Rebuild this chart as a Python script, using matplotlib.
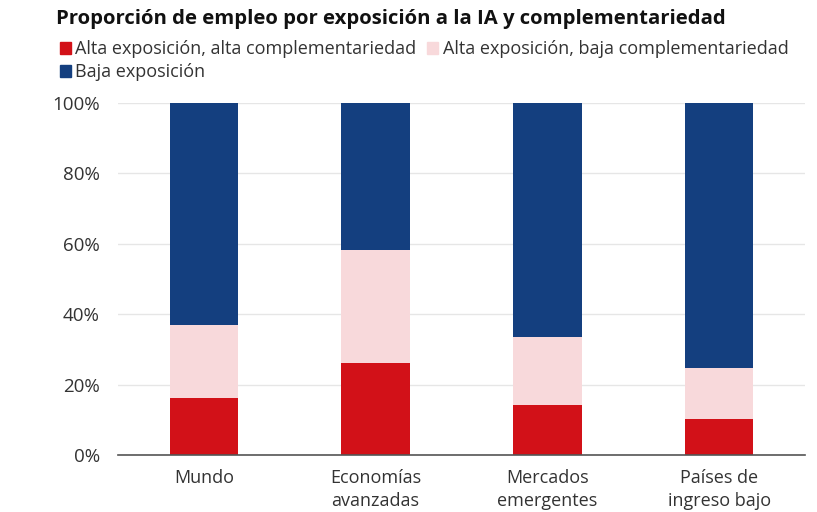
import matplotlib
matplotlib.use("Agg")
import matplotlib.pyplot as plt
from matplotlib.patches import Patch
from matplotlib.ticker import FuncFormatter

categories = ["Mundo", "Economías\navanzadas", "Mercados\nemergentes", "Países de\ningreso bajo"]
alta_alta = [16.2, 26.1, 14.3, 10.1]
alta_baja = [20.7, 32.1, 19.2, 14.5]
baja = [63.1, 41.8, 66.5, 75.4]
series_labels = ["Alta exposición, alta complementariedad",
                 "Alta exposición, baja complementariedad",
                 "Baja exposición"]
colors = ["#D21118", "#F8D9DB", "#143F7F"]

plt.rcParams["font.family"] = ["Open Sans", "DejaVu Sans"]

fig = plt.figure(figsize=(8.17, 5.12), dpi=100)
ax = fig.add_axes([0.1444, 0.1113, 0.8409, 0.6875])

x = range(len(categories))
w = 0.4
bottom = [0.0] * len(categories)
for vals, c in zip([alta_alta, alta_baja, baja], colors):
    ax.bar(x, vals, w, bottom=bottom, color=c, zorder=3)
    bottom = [b + v for b, v in zip(bottom, vals)]

ax.set_xlim(-0.5, len(categories) - 0.5)
ax.set_ylim(0, 100)
ax.set_yticks(range(0, 101, 20))
ax.yaxis.set_major_formatter(FuncFormatter(lambda v, p: f"{v:.0f}%"))
ax.set_xticks(list(x))
ax.set_xticklabels(categories, fontsize=13, color="#333333", linespacing=1.35)
ax.tick_params(axis="y", labelsize=13.5, labelcolor="#333333", length=0, pad=13)
ax.tick_params(axis="x", length=0, pad=10)
ax.grid(axis="y", color="#E6E6E6", linewidth=1, zorder=0)
for s in ["top", "right", "left"]:
    ax.spines[s].set_visible(False)
ax.spines["bottom"].set_color("#555555")
ax.spines["bottom"].set_linewidth(1.2)
ax.spines["bottom"].set_zorder(4)

fig.text(0.068, 0.963, "Proporción de empleo por exposición a la IA y complementariedad",
         fontsize=14.6, fontweight="bold", color="#111111", va="center")

handles = [Patch(color=c) for c in colors]
order = [0, 2, 1]
fig.legend([handles[i] for i in order], [series_labels[i] for i in order],
           ncol=2, loc="upper left", bbox_to_anchor=(0.058, 0.946),
           frameon=False, fontsize=13, handlelength=0.6, handleheight=0.6,
           handletextpad=0.25, columnspacing=0.6, labelspacing=0.28,
           labelcolor="#333333", borderpad=0.2)

fig.savefig("out.png", dpi=100)
